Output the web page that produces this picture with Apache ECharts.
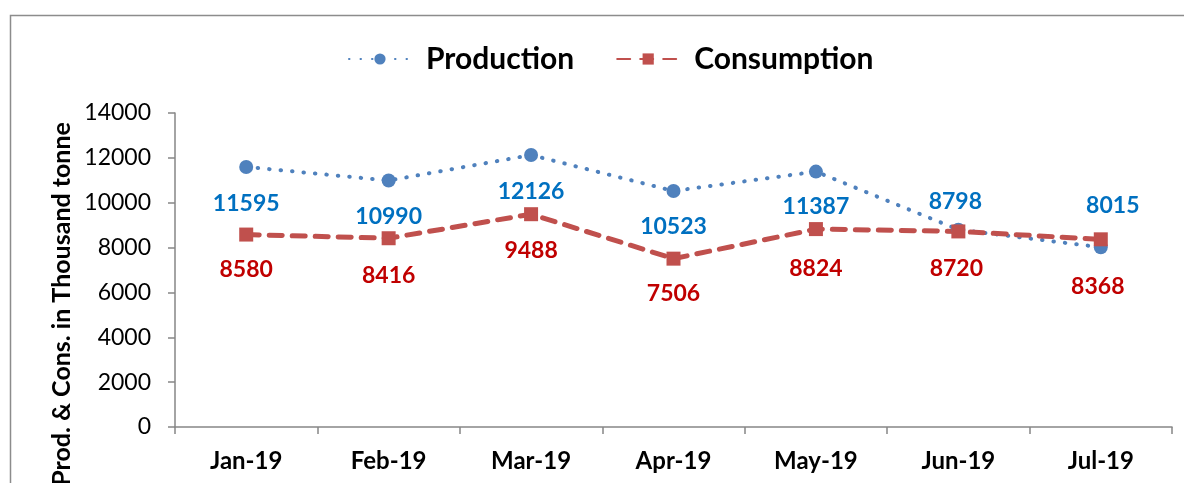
<!DOCTYPE html>
<html>
<head>
<meta charset="utf-8">
<script src="https://cdn.jsdelivr.net/npm/echarts@6/dist/echarts.min.js"></script>
<style>html,body{margin:0;padding:0;background:#fff}#c{width:1184px;height:483px}</style>
</head>
<body>
<div id="c"></div>
<script>
var categories = ['Jan-19', 'Feb-19', 'Mar-19', 'Apr-19', 'May-19', 'Jun-19', 'Jul-19'];
var production = [11595, 10990, 12126, 10523, 11387, 8798, 8015];
var consumption = [8580, 8416, 9488, 7506, 8824, 8720, 8368];
var yTicks = [0, 2000, 4000, 6000, 8000, 10000, 12000, 14000];
// label offsets (style only)
var prodLabelOff = [[0, 37], [0, 36], [0, 37], [0, 36], [0, 35], [-3, -28], [12, -42]];
var consLabelOff = [[0, 35], [0, 37], [0, 36], [0, 35], [0, 39], [-2, 37], [-3, 47]];

function withLabels(vals, offs, color) {
  return vals.map(function (v, i) {
    return { value: v, label: { show: true, position: 'inside', offset: offs[i], color: color,
      fontFamily: 'Lato', fontWeight: 'bold', fontSize: 23 } };
  });
}

var chart = echarts.init(document.getElementById('c'));
chart.setOption({
  animation: false,
  backgroundColor: '#fff',
  graphic: [
    { type: 'rect', left: 8, top: 13, shape: { width: 1200, height: 500 }, style: { fill: 'none', stroke: '#8c8c8c', lineWidth: 1.5 }, z: -1 },
    { type: 'text', x: 62, y: 304, rotation: Math.PI / 2,
      style: { text: 'Prod. & Cons. in Thousand tonne', fontFamily: 'Lato', fontWeight: 'bold', fontSize: 25, fill: '#000', align: 'center', verticalAlign: 'middle' } }
  ],
  legend: {
    top: 39, left: 343, itemWidth: 62, itemHeight: 14, itemGap: 42,
    textStyle: { fontFamily: 'Lato', fontWeight: 'bold', fontSize: 30, color: '#000', padding: [0, 0, 0, 10] },
    data: ['Production', 'Consumption']
  },
  grid: { left: 175, right: 12, top: 113, bottom: 56, containLabel: false },
  xAxis: {
    type: 'category', data: categories, boundaryGap: true,
    axisLine: { lineStyle: { color: '#868686', width: 1.5 } },
    axisTick: { show: true, length: 7, alignWithLabel: false, lineStyle: { color: '#868686', width: 1.5 } },
    axisLabel: { fontFamily: 'Lato', fontWeight: 'bold', fontSize: 24, color: '#000', margin: 22 }
  },
  yAxis: {
    type: 'value', min: yTicks[0], max: yTicks[yTicks.length - 1], interval: 2000,
    splitLine: { show: false },
    axisLine: { show: true, lineStyle: { color: '#868686', width: 1.5 } },
    axisTick: { show: true, length: 7, lineStyle: { color: '#868686', width: 1.5 } },
    axisLabel: { fontFamily: 'Lato', fontSize: 23, color: '#000', margin: 24, formatter: function (v) { return String(v); } }
  },
  series: [
    { name: 'Production', type: 'line', data: withLabels(production, prodLabelOff, '#0070C0'),
      symbol: 'circle', symbolSize: 14, itemStyle: { color: '#4F81BD' },
      lineStyle: { color: '#4F81BD', width: 4, type: [0.5, 11], cap: 'round' } },
    { name: 'Consumption', type: 'line', data: withLabels(consumption, consLabelOff, '#C00000'),
      symbol: 'rect', symbolSize: 14, itemStyle: { color: '#C0504D' },
      lineStyle: { color: '#C0504D', width: 5, type: [13, 10], cap: 'round' } }
  ]
});
</script>
</body>
</html>
